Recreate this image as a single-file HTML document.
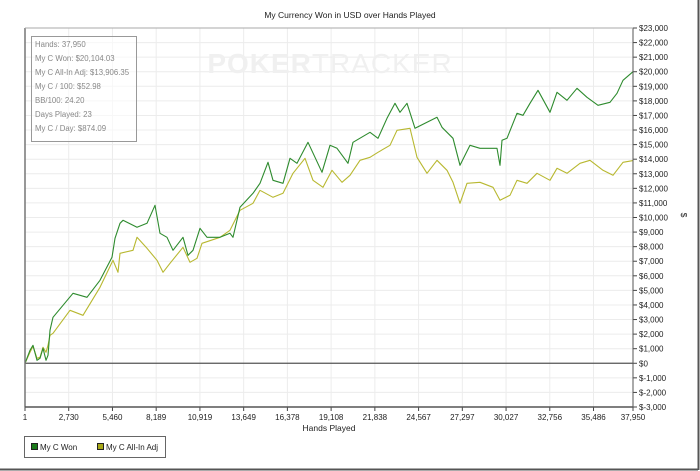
<!DOCTYPE html>
<html><head><meta charset="utf-8"><style>
body{margin:0;background:#fff;}
svg{display:block;font-family:"Liberation Sans",sans-serif;}
</style></head><body>
<svg id="chart" width="700" height="471">
<rect x="0" y="0" width="698" height="469" fill="#fff" stroke="none"/>
<line x1="0" y1="469.5" x2="698" y2="469.5" stroke="#555" stroke-width="2"/>
<line x1="698.5" y1="0" x2="698.5" y2="470" stroke="#555" stroke-width="2"/>
<text x="350" y="18" font-size="8.5" text-anchor="middle" fill="#222">My Currency Won in USD over Hands Played</text>
<g id="grid"></g>
<text x="330" y="73" font-size="28" font-weight="bold" text-anchor="middle" fill="#f0f0f0" letter-spacing="1">POKER<tspan font-weight="normal">TRACKER</tspan></text>
<g id="series"></g>
<g id="axes"></g>
<g>
<rect x="31.5" y="36.5" width="105" height="105" fill="#fff" fill-opacity="0.6" stroke="#999"/>
<g font-size="7.8" fill="#888">
<text x="35" y="47">Hands: 37,950</text>
<text x="35" y="61">My C Won: $20,104.03</text>
<text x="35" y="75">My C All-In Adj: $13,906.35</text>
<text x="35" y="89">My C / 100: $52.98</text>
<text x="35" y="103">BB/100: 24.20</text>
<text x="35" y="117">Days Played: 23</text>
<text x="35" y="131">My C / Day: $874.09</text>
</g></g>
<text x="329" y="431" font-size="8.5" text-anchor="middle" fill="#222">Hands Played</text>
<text x="0" y="0" font-size="8.5" text-anchor="middle" fill="#222" transform="translate(681,215) rotate(90)">$</text>
<g>
<rect x="24.5" y="436.5" width="141" height="21" fill="#fff" stroke="#666"/>
<rect x="31.5" y="443.5" width="6" height="6" fill="#1a7a1a" stroke="#222"/>
<text x="40" y="450" font-size="8" fill="#222">My C Won</text>
<rect x="97.5" y="443.5" width="6" height="6" fill="#a8a818" stroke="#222"/>
<text x="106" y="450" font-size="8" fill="#222">My C All-In Adj</text>
</g>
</svg>
<script>
const xTicks=[1,2730,5460,8189,10919,13649,16378,19108,21838,24567,27297,30027,32756,35486,37950];
const yTicks=[-3000,-2000,-1000,0,1000,2000,3000,4000,5000,6000,7000,8000,9000,10000,11000,12000,13000,14000,15000,16000,17000,18000,19000,20000,21000,22000,23000];
const wonHands=[1,313,500,750,937,1124,1312,1437,1561,1749,2997,3871,4683,5431,5619,5931,6118,6992,7616,8116,8428,8865,9239,9863,10175,10488,10925,11362,12173,12797,12984,13421,14233,14670,15169,15481,16105,16542,16979,17665,18102,18539,19039,19476,20163,20475,21536,22036,22597,23097,23409,23846,24345,25094,25718,26030,26717,27154,27778,28402,29463,29650,29775,30087,30712,31086,31523,32022,32771,33208,33832,34456,35081,35767,36516,36953,37328,37950];
const wonValues=[0,892,1235,206,343,1029,206,549,2263,3155,4802,4527,5693,7271,8574,9603,9809,9329,9603,10838,8917,8642,7751,8642,7408,7751,9260,8642,8642,8917,8642,10701,11661,12346,13787,12552,12346,14061,13719,15159,14130,13101,14953,14747,13719,15159,15845,15433,16806,17834,17217,17834,16120,16531,16874,16188,15433,13581,14953,14747,14747,13581,15296,15433,17148,17012,17834,18726,17217,18589,18040,18863,18246,17698,17903,18521,19412,20000];
const adjHands=[1,313,500,750,937,1124,1312,1437,1561,1749,2810,3621,4683,5494,5806,5931,6743,6992,7616,8240,8615,9052,9863,10300,10737,11050,12173,12797,13421,14233,14670,15481,16105,16729,17478,17977,18601,19164,19788,20288,20912,21536,22036,22785,23222,24033,24470,25094,25718,26342,26717,27154,27591,28402,29214,29650,30275,30712,31336,31960,32771,33208,33832,34643,35268,36079,36703,37328,37950];
const adjValues=[0,754,1166,343,412,1097,754,1235,1921,2057,3636,3292,5213,7065,6242,7545,7751,8642,7888,7065,6242,6859,7956,6928,7202,8232,8642,9123,10495,10975,11866,11387,11661,13033,14061,12552,12072,13238,12415,12896,13925,14130,14473,14953,15982,16120,14130,13033,13925,13238,12415,10975,12346,12415,12072,11181,11524,12552,12346,13033,12552,13376,13033,13719,13925,13238,12896,13787,13906];
const NS='http://www.w3.org/2000/svg';
const L=25,R=633,T=28,B=407;
function xs(h){return L+(h-1)/(37950-1)*(R-L);}
function ys(v){return B-(v+3000)/26000*(B-T);}
function mk(tag,attrs,parent){const e=document.createElementNS(NS,tag);for(const k in attrs)e.setAttribute(k,attrs[k]);parent.appendChild(e);return e;}
const grid=document.getElementById('grid'),axes=document.getElementById('axes'),series=document.getElementById('series');
xTicks.forEach((t,i)=>{const x=xs(t);
 const g=mk('line',{x1:x,y1:T,x2:x,y2:B,stroke:'#ececec'},grid);
 
 
 const tk=mk('line',{x1:x,y1:B,x2:x,y2:B+4,stroke:'#444'},axes);
 
 
 const lb=mk('text',{x:x,y:B+13,'font-size':8,'text-anchor':'middle',fill:'#222'},axes);
 lb.textContent=t.toLocaleString('en-US');
 
 
});
yTicks.forEach(t=>{const y=ys(t);
 const g=mk('line',{x1:L,y1:y,x2:R,y2:y,stroke:t===0?'#555':'#ececec','stroke-width':t===0?1.2:1},grid);
 
 
 const tk=mk('line',{x1:R,y1:y,x2:R+4,y2:y,stroke:'#444'},axes);
 
 
 const lb=mk('text',{x:R+6,y:y+3,'font-size':8,fill:'#222'},axes);
 lb.textContent=(t<0?'$-':'$')+Math.abs(t).toLocaleString('en-US');
 
 
});
const ax1=mk('line',{x1:L,y1:T,x2:L,y2:B,stroke:'#777','stroke-width':1.5},axes);


const ax2=mk('line',{x1:L,y1:B,x2:R,y2:B,stroke:'#555','stroke-width':1.5},axes);


const ax3=mk('line',{x1:R,y1:T,x2:R,y2:B,stroke:'#555','stroke-width':1},axes);


const ax4=mk('line',{x1:L,y1:T,x2:R,y2:T,stroke:'#aaa','stroke-width':1},axes);


function line(hs,vs,color,name){
 const d=hs.map((h,i)=>(i?'L':'M')+xs(h).toFixed(1)+','+ys(vs[i]).toFixed(1)).join('');
 const p=mk('path',{d:d,fill:'none',stroke:color,'stroke-width':1.1,'stroke-linejoin':'round'},series);
 
 
}
line(adjHands,adjValues,'#b8b830','line-all-in-adj');
line(wonHands,wonValues,'#2e8b2e','line-my-c-won');
</script>
</body></html>
